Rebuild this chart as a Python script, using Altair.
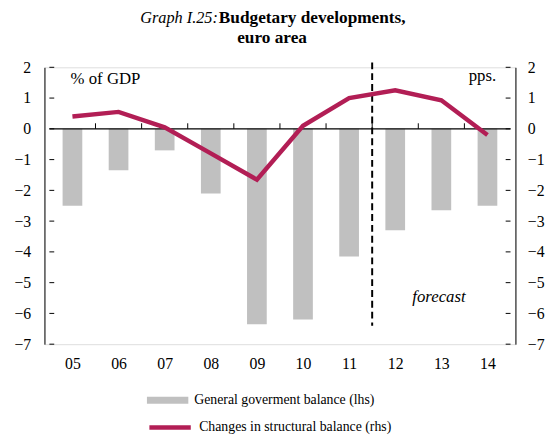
import altair as alt
import pandas as pd

# ---- data ----
years = ["05", "06", "07", "08", "09", "10", "11", "12", "13", "14"]
gov_balance = [-2.5, -1.35, -0.7, -2.1, -6.35, -6.2, -4.15, -3.3, -2.65, -2.5]
struct_change = [0.4, 0.55, 0.05, -0.8, -1.65, 0.1, 1.0, 1.25, 0.93, -0.2]
y_ticks = [-7, -6, -5, -4, -3, -2, -1, 0, 1, 2]
series_lhs = "General goverment balance (lhs)"
series_rhs = "Changes in structural balance (rhs)"
forecast_start = 6.5  # boundary between 11 and 12 (category index)

FONT = "Liberation Serif"
GRAY = "#c0c0c0"
RED = "#b21e55"

idx = list(range(len(years)))
df = pd.DataFrame({"i": idx, "year": years, "gov": gov_balance,
                   "chg": struct_change, "s1": series_lhs, "s2": series_rhs})
df_bounds = pd.DataFrame({"b": [k + 0.5 for k in idx[:-1]]})
df_ticks = pd.DataFrame({"t": y_ticks})
one = pd.DataFrame({"a": [0]})

xscale = alt.Scale(domain=[-0.5, len(years) - 0.5], nice=False, zero=False)
yscale = alt.Scale(domain=[-7, 2], nice=False, zero=False)
label_expr = "[" + ",".join(f"'{y}'" for y in years) + "][datum.value]"

axis_common = dict(ticks=False, grid=False, title=None, labelFont=FONT,
                   labelFontSize=16, labelColor="black", domainColor="black")

legend_common = dict(title=None, orient="none", labelFont=FONT, labelFontSize=14,
                     labelColor="black", labelOffset=6, labelLimit=0)

bars = alt.Chart(df).mark_bar(size=20).encode(
    x=alt.X("i:Q", scale=xscale,
            axis=alt.Axis(values=idx, labelExpr=label_expr, domain=False,
                          labelPadding=12, **axis_common)),
    y=alt.Y("gov:Q", scale=yscale,
            axis=alt.Axis(orient="left", values=y_ticks, labelPadding=14,
                          **axis_common)),
    y2=alt.datum(0),
    color=alt.Color("s1:N", scale=alt.Scale(range=[GRAY]),
                    legend=alt.Legend(legendX=104, legendY=317,
                                      symbolType="M-1,-0.17L1,-0.17L1,0.17L-1,0.17Z",
                                      symbolSize=1764, symbolStrokeWidth=0,
                                      **legend_common)),
)

line = alt.Chart(df).mark_line(strokeWidth=4.5).encode(
    x=alt.X("i:Q", scale=xscale, axis=None),
    y=alt.Y("chg:Q", scale=yscale,
            axis=alt.Axis(orient="right", values=y_ticks, labelPadding=12,
                          **axis_common)),
    color=alt.Color("s2:N", scale=alt.Scale(range=[RED]),
                    legend=alt.Legend(legendX=104, legendY=342,
                                      symbolType="stroke", symbolSize=1764,
                                      symbolStrokeWidth=4.5,
                                      **legend_common)),
)

zero_line = alt.Chart(one).mark_rule(color="black", strokeWidth=1.2).encode(
    x=alt.X(datum=-0.5, scale=xscale, axis=None),
    x2=alt.datum(len(years) - 0.5),
    y=alt.Y(datum=0, scale=yscale, axis=None),
)

bound_ticks = alt.Chart(df_bounds).mark_rule(color="black", strokeWidth=1).encode(
    x=alt.X("b:Q", scale=xscale, axis=None),
    y=alt.Y(datum=0, scale=yscale, axis=None),
    y2=alt.datum(0.18),
)

left_ticks = alt.Chart(df_ticks).mark_rule(color="black", strokeWidth=1).encode(
    x=alt.X(datum=-0.5, scale=xscale, axis=None),
    x2=alt.datum(-0.395),
    y=alt.Y("t:Q", scale=yscale, axis=None),
)

right_ticks = alt.Chart(df_ticks).mark_rule(color="black", strokeWidth=1).encode(
    x=alt.X(datum=len(years) - 0.605, scale=xscale, axis=None),
    x2=alt.datum(len(years) - 0.5),
    y=alt.Y("t:Q", scale=yscale, axis=None),
)

dashed = alt.Chart(one).mark_rule(color="black", strokeWidth=2, strokeDash=[7, 4]).encode(
    x=alt.X(datum=forecast_start, scale=xscale, axis=None),
    y=alt.Y(datum=2.16, scale=yscale, axis=None),
    y2=alt.datum(-6.4),
)

def note(text, x, y, align, style="normal", size=17):
    return alt.Chart(one).mark_text(text=text, align=align, baseline="alphabetic",
                                    font=FONT, fontSize=size, fontStyle=style,
                                    color="black").encode(
        x=alt.X(datum=x, scale=xscale, axis=None),
        y=alt.Y(datum=y, scale=yscale, axis=None),
    )

gdp_txt = note("% of GDP", -0.04, 1.47, "left")
pps_txt = note("pps.", 9.19, 1.55, "right")
fc_txt = note("forecast", 7.37, -5.64, "left", "italic")

def title_text(text, x, y, align, style="normal", weight="normal", size=17.5):
    return alt.Chart(one).mark_text(text=text, align=align, baseline="alphabetic",
                                    font=FONT, fontSize=size, fontStyle=style,
                                    fontWeight=weight, color="black").encode(
        x=alt.value(x), y=alt.value(y))

t1 = title_text("Graph I.25:", 176, -45, "right", style="italic", size=16.5)
t2 = title_text("Budgetary developments,", 177, -45, "left", weight="bold")
t3 = title_text("euro area", 231, -25, "center", weight="bold")

chart = alt.layer(
    bars, zero_line, bound_ticks, left_ticks, right_ticks, dashed, line,
    gdp_txt, pps_txt, fc_txt, t1, t2, t3,
).resolve_scale(color="independent").resolve_axis(
    x="independent", y="independent"
).properties(
    width=478, height=281, autosize="none",
    padding={"left": 37, "top": 57, "right": 30, "bottom": 90},
).configure_view(stroke=None).configure(background="white")

chart.save("out.html", embed_options={"renderer": "svg", "actions": False})
